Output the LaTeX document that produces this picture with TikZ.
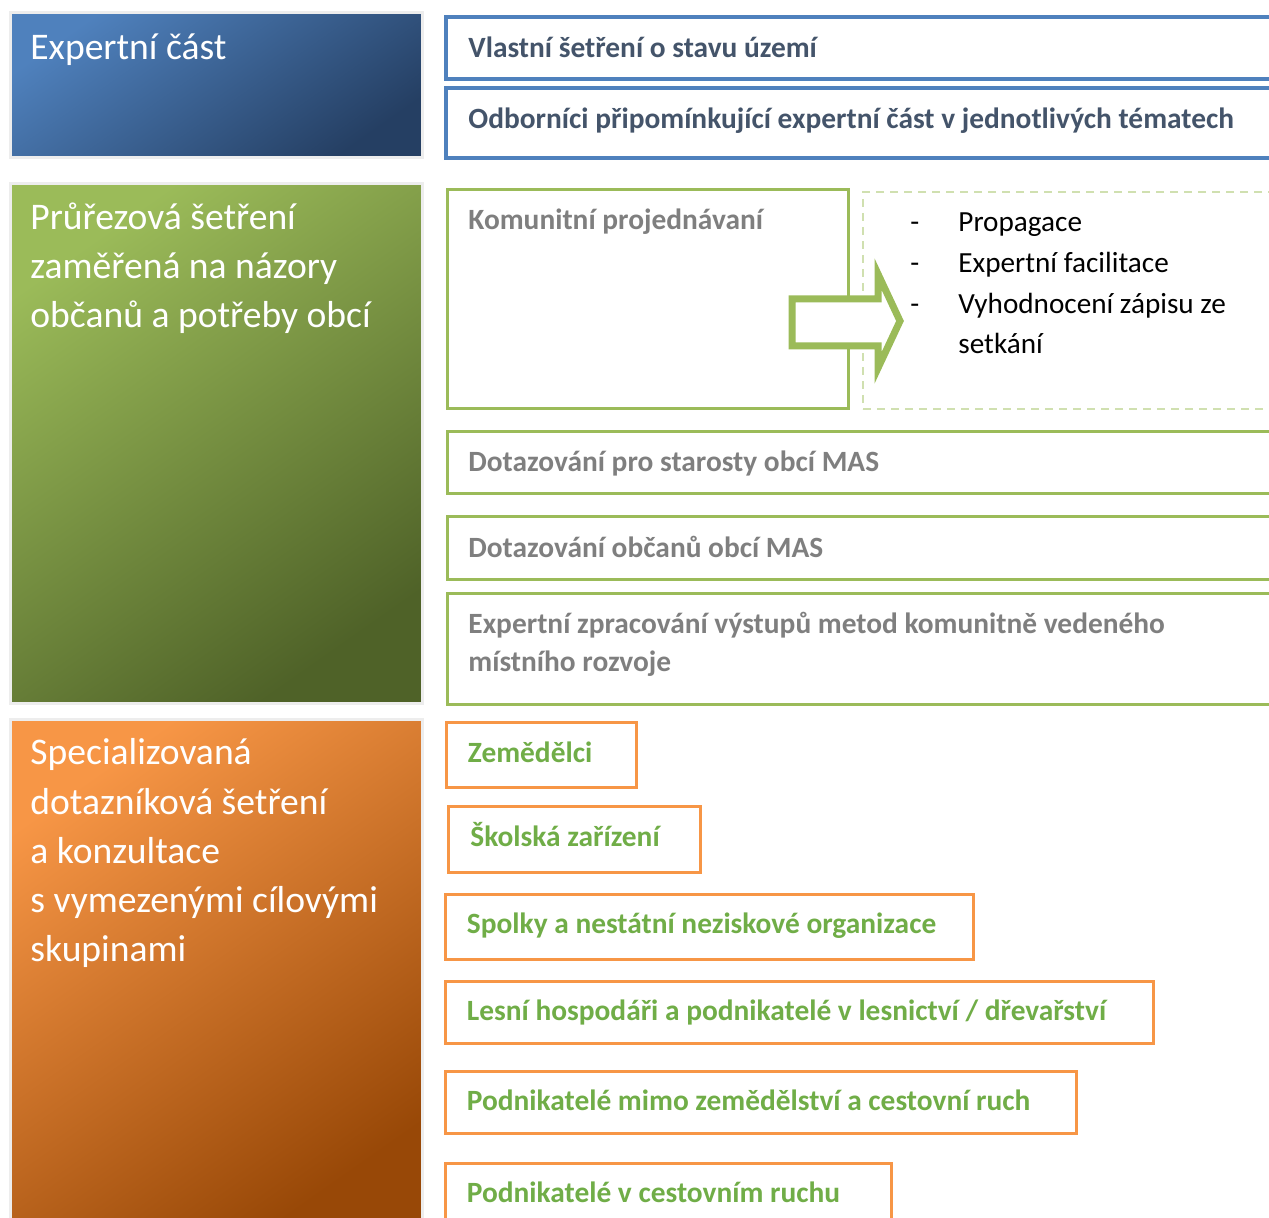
\documentclass[tikz,border=0pt]{standalone}
\usepackage{fontspec}
\setmainfont{Carlito}

\definecolor{blueline}{HTML}{4F81BD}
\definecolor{greenline}{HTML}{9BBB59}
\definecolor{orangeline}{HTML}{F79646}
\definecolor{bluedark}{HTML}{253F63}
\definecolor{greendark}{HTML}{4F6228}
\definecolor{orangedark}{HTML}{984807}
\definecolor{dashline}{HTML}{D0E0B0}
\definecolor{slatetext}{HTML}{44546A}
\definecolor{greytext}{HTML}{7F7F7F}
\definecolor{greentext}{HTML}{70AD47}

\tikzset{
  panel/.style={draw=black!7, line width=1.5pt, anchor=north west, inner sep=0pt,
    outer sep=0pt, minimum width=206pt},
  bluepanel/.style={panel, top color=blueline, bottom color=bluedark, shading angle=35},
  greenpanel/.style={panel, top color=greenline, bottom color=greendark, shading angle=35},
  orangepanel/.style={panel, top color=orangeline, bottom color=orangedark, shading angle=35},
  paneltext/.style={anchor=base west, inner sep=0pt, text=white, text width=200pt, align=flush left,
    font=\fontsize{18.8}{24.6}\selectfont},
  box/.style={anchor=north west, inner sep=0pt, outer sep=0pt, line width=1.5pt},
  bluebox/.style={box, draw=blueline, line width=1.7pt},
  greenbox/.style={box, draw=greenline},
  orangebox/.style={box, draw=orangeline},
  boxtext/.style={anchor=base west, inner sep=0pt, font=\fontsize{14.7}{19}\selectfont\bfseries},
  listtext/.style={anchor=base west, inner sep=0pt, align=flush left, font=\fontsize{14.6}{20.3}\selectfont}
}

\begin{document}
\begin{tikzpicture}[x=0.5pt, y=-0.5pt]
  \useasboundingbox (0,0) rectangle (1269,1218);
  \clip (0,0) rectangle (1269,1218);

  % left column
  \node[bluepanel, minimum height=72.5pt] (expert) at (10,13) {};
  \node[greenpanel, minimum height=260pt] (prurez) at (10,184) {};
  \node[orangepanel, minimum height=258pt] (special) at (10,720) {};
  \node[paneltext] (experttxt) at (30,60) {Expertní část};
  \node[paneltext] (prureztxt) at (30,229.5) {Průřezová šetření\\zaměřená na názory\\občanů a potřeby obcí};
  \node[paneltext] (specialtxt) at (30,765) {Specializovaná\\dotazníková šetření\\a konzultace\\s vymezenými cílovými\\skupinami};

  % expert part
  \node[bluebox, minimum width=422pt, minimum height=31pt] (vlastni) at (446,17) {};
  \node[bluebox, minimum width=422pt, minimum height=35pt] (odbornici) at (446,88) {};
  \node[boxtext, text=slatetext] (vlastnitxt) at (468,58) {Vlastní šetření o stavu území};
  \node[boxtext, text=slatetext] (odbornicitxt) at (468,128.5) {Odborníci připomínkující expertní část v jednotlivých tématech};

  % cross-section surveys
  \node[greenbox, minimum width=200.5pt, minimum height=109.5pt] (komunit) at (447,190) {};
  \node[box, draw=dashline, line width=1pt, dash pattern=on 4pt off 3pt,
    minimum width=213.5pt, minimum height=108.5pt] (postup) at (863,192) {};
  \node[greenbox, minimum width=421.5pt, minimum height=31pt] (starosty) at (447,432) {};
  \node[greenbox, minimum width=421.5pt, minimum height=31.5pt] (obcane) at (447,517) {};
  \node[greenbox, minimum width=421.5pt, minimum height=55.5pt] (zpracovani) at (447,594) {};
  \node[boxtext, text=greytext] (komunittxt) at (468,229.5) {Komunitní projednávaní};
  \node[boxtext, text=greytext] (starostytxt) at (468,471.5) {Dotazování pro starosty obcí MAS};
  \node[boxtext, text=greytext] (obcanetxt) at (468,557.5) {Dotazování občanů obcí MAS};
  \node[boxtext, text=greytext, text width=400pt, align=flush left] (zpracovanitxt) at (468,633.5)
    {Expertní zpracování výstupů metod komunitně vedeného\\místního rozvoje};

  % block arrow
  \draw[draw=greenline, fill=white, line width=3.5pt, line join=miter]
    (792,299) -- (878,299) -- (878,274) -- (900,321) -- (878,368) -- (878,346) -- (792,346) -- cycle;
  \node[listtext, text width=10pt] (dashes) at (910,232) {-\\-\\-};
  \node[listtext, text width=150pt] (kroky) at (958,232) {Propagace\\Expertní facilitace\\Vyhodnocení zápisu ze\\setkání};

  % target groups
  \node[orangebox, minimum width=95pt, minimum height=32.5pt] (zemedelci) at (446,723) {};
  \node[orangebox, minimum width=126pt, minimum height=32.5pt] (skoly) at (448.5,807) {};
  \node[orangebox, minimum width=264pt, minimum height=32.5pt] (spolky) at (445,894) {};
  \node[orangebox, minimum width=354pt, minimum height=31pt] (lesnici) at (445,981) {};
  \node[orangebox, minimum width=315.5pt, minimum height=31pt] (podnikatele) at (445,1071) {};
  \node[orangebox, minimum width=223pt, minimum height=40pt] (cestovni) at (445,1163) {};
  \node[boxtext, text=greentext] (zemedelcitxt) at (467.5,762.5) {Zemědělci};
  \node[boxtext, text=greentext] (skolytxt) at (470,846.5) {Školská zařízení};
  \node[boxtext, text=greentext] (spolkytxt) at (466.5,933.5) {Spolky a nestátní neziskové organizace};
  \node[boxtext, text=greentext] (lesnicitxt) at (466.5,1020.5) {Lesní hospodáři a podnikatelé v lesnictví / dřevařství};
  \node[boxtext, text=greentext] (podnikateletxt) at (466.5,1110.5) {Podnikatelé mimo zemědělství a cestovní ruch};
  \node[boxtext, text=greentext] (cestovnitxt) at (466.5,1202.5) {Podnikatelé v cestovním ruchu};
\end{tikzpicture}
\end{document}
